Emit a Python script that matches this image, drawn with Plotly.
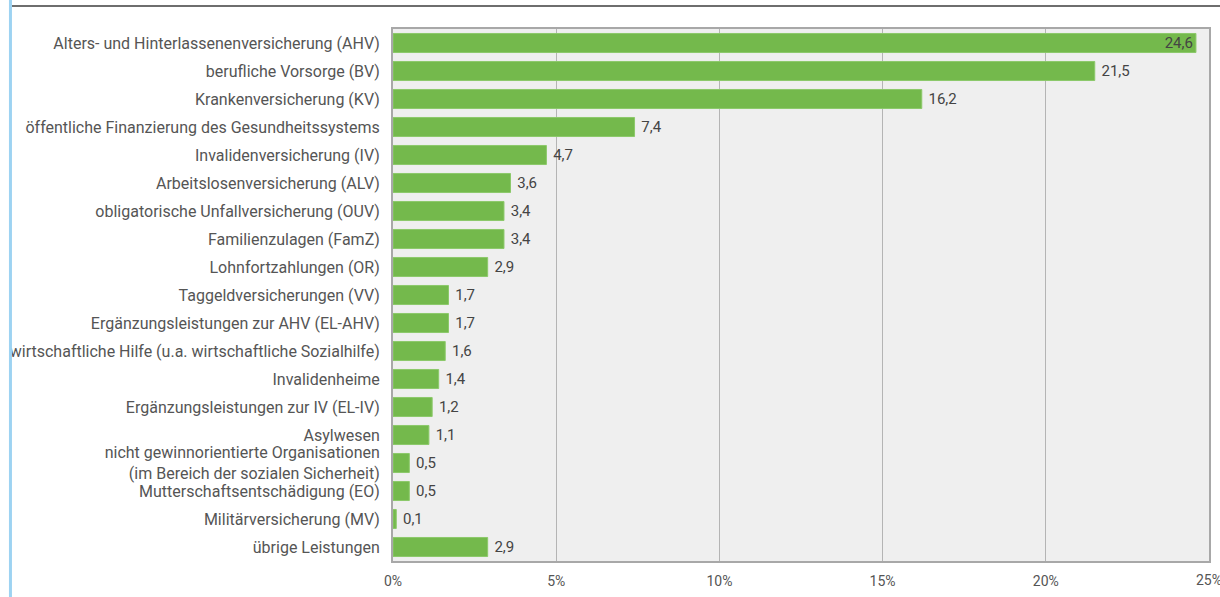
import plotly.graph_objects as go

categories = [
    "Alters- und Hinterlassenenversicherung (AHV)",
    "berufliche Vorsorge (BV)",
    "Krankenversicherung (KV)",
    "öffentliche Finanzierung des Gesundheitssystems",
    "Invalidenversicherung (IV)",
    "Arbeitslosenversicherung (ALV)",
    "obligatorische Unfallversicherung (OUV)",
    "Familienzulagen (FamZ)",
    "Lohnfortzahlungen (OR)",
    "Taggeldversicherungen (VV)",
    "Ergänzungsleistungen zur AHV (EL-AHV)",
    "wirtschaftliche Hilfe (u.a. wirtschaftliche Sozialhilfe)",
    "Invalidenheime",
    "Ergänzungsleistungen zur IV (EL-IV)",
    "Asylwesen",
    "nicht gewinnorientierte Organisationen<br>(im Bereich der sozialen Sicherheit)",
    "Mutterschaftsentschädigung (EO)",
    "Militärversicherung (MV)",
    "übrige Leistungen",
]
shares = [24.6, 21.5, 16.2, 7.4, 4.7, 3.6, 3.4, 3.4, 2.9, 1.7, 1.7, 1.6, 1.4, 1.2, 1.1, 0.5, 0.5, 0.1, 2.9]
x_max = 25

GREEN = "#74b94c"
TEXT = "#555555"

# label sits inside only where the bar runs up to the frame
positions = ["inside" if v > 24 else "outside" for v in shares]

fig = go.Figure()
fig.add_trace(go.Bar(
    x=shares, y=categories,
    orientation="h",
    width=0.68,
    marker=dict(color=GREEN, line=dict(color="#8cc96a", width=1)),
    texttemplate="\u00a0%{x:.1f}",
    textposition=positions,
    insidetextanchor="end",
    textfont=dict(family="Roboto", size=15, color="#444444"),
    cliponaxis=False,
    hoverinfo="skip",
))

# last tick label runs off the page edge, plotly would drop it -> annotation
fig.add_annotation(
    x=x_max, xref="x", y=0, yref="paper", yshift=-9,
    text=f"{x_max}%", showarrow=False, yanchor="top",
    font=dict(size=14, color=TEXT),
)

fig.update_layout(
    width=1220, height=597,
    margin=dict(l=393, r=11, t=29, b=36),
    paper_bgcolor="white",
    plot_bgcolor="#efefef",
    separators=",.",
    font=dict(family="Roboto", size=14, color=TEXT),
    showlegend=False,
    uniformtext=dict(mode="show", minsize=15),
    shapes=[
        # dark rule across the top of the page
        dict(type="line", xref="paper", yref="paper", x0=-0.467, x1=1.02,
             y0=1.043, y1=1.043, line=dict(color="#6e6e6e", width=2)),
        # light blue strip on the left edge
        dict(type="line", xref="paper", yref="paper", x0=-0.4688, x1=-0.4688,
             y0=-0.1, y1=1.1, line=dict(color="#9dd3f2", width=3)),
    ],
)

fig.update_xaxes(
    range=[0, x_max],
    tick0=0, dtick=5,
    ticksuffix="%",
    showgrid=True, gridcolor="#b4b4b4", gridwidth=1,
    zeroline=False,
    showline=True, linecolor="#a8a8a8", linewidth=2, mirror=True,
    tickfont=dict(size=14, color=TEXT),
    ticks="", ticklabelstandoff=6,
    automargin=False,
    fixedrange=True,
)
fig.update_yaxes(
    autorange="reversed",
    showgrid=False,
    showline=True, linecolor="#a8a8a8", linewidth=2, mirror=True,
    tickfont=dict(size=16, color=TEXT),
    ticks="", ticklabelstandoff=8,
    automargin=False,
    fixedrange=True,
)

fig.write_html(
    "out.html",
    config={"displayModeBar": False},
    post_script="document.body.style.margin = '0';",
)
